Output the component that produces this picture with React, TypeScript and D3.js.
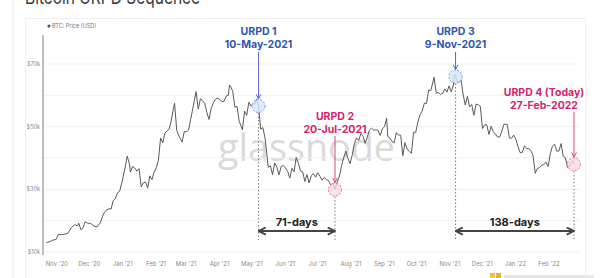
import React from "react";
import * as d3 from "d3";

const btcPrice: [string, number][] = [
  ["2020-10-25", 13.0], ["2020-10-28", 13.3], ["2020-10-31", 13.8], ["2020-11-03", 14.0],
  ["2020-11-05", 15.6], ["2020-11-08", 15.5], ["2020-11-11", 15.7], ["2020-11-14", 16.0],
  ["2020-11-17", 17.7], ["2020-11-20", 18.7], ["2020-11-23", 18.4], ["2020-11-24", 19.2],
  ["2020-11-26", 17.1], ["2020-11-28", 17.7], ["2020-11-30", 19.7], ["2020-12-02", 19.2],
  ["2020-12-05", 19.1], ["2020-12-08", 18.3], ["2020-12-11", 18.0], ["2020-12-14", 19.3],
  ["2020-12-16", 21.3], ["2020-12-18", 22.8], ["2020-12-20", 23.4], ["2020-12-22", 23.8],
  ["2020-12-24", 23.7], ["2020-12-26", 26.4], ["2020-12-28", 27.0], ["2020-12-30", 28.9],
  ["2021-01-01", 29.4], ["2021-01-03", 32.1], ["2021-01-06", 36.8], ["2021-01-08", 40.6],
  ["2021-01-10", 38.2], ["2021-01-11", 35.5], ["2021-01-13", 37.3], ["2021-01-15", 36.8],
  ["2021-01-17", 35.8], ["2021-01-19", 36.6], ["2021-01-21", 30.8], ["2021-01-23", 32.1],
  ["2021-01-25", 32.3], ["2021-01-27", 30.4], ["2021-01-29", 34.3], ["2021-01-31", 33.1],
  ["2021-02-02", 35.5], ["2021-02-04", 36.9], ["2021-02-06", 39.3], ["2021-02-08", 46.4],
  ["2021-02-10", 44.8], ["2021-02-12", 47.9], ["2021-02-14", 48.7], ["2021-02-16", 49.2],
  ["2021-02-18", 52.1], ["2021-02-20", 55.9], ["2021-02-21", 57.5], ["2021-02-23", 48.8],
  ["2021-02-25", 47.0], ["2021-02-28", 45.1], ["2021-03-02", 48.4], ["2021-03-04", 48.4],
  ["2021-03-06", 48.9], ["2021-03-08", 52.4], ["2021-03-10", 55.9], ["2021-03-13", 61.2],
  ["2021-03-15", 55.6], ["2021-03-17", 58.9], ["2021-03-19", 58.3], ["2021-03-21", 57.4],
  ["2021-03-23", 54.5], ["2021-03-25", 52.3], ["2021-03-27", 55.8], ["2021-03-29", 57.6],
  ["2021-03-31", 58.8], ["2021-04-02", 59.1], ["2021-04-04", 58.7], ["2021-04-06", 58.0],
  ["2021-04-08", 58.1], ["2021-04-10", 59.8], ["2021-04-12", 60.0], ["2021-04-13", 63.3],
  ["2021-04-14", 62.9], ["2021-04-16", 61.3], ["2021-04-18", 56.2], ["2021-04-20", 56.5],
  ["2021-04-22", 51.7], ["2021-04-24", 50.0], ["2021-04-25", 49.0], ["2021-04-27", 55.0],
  ["2021-04-29", 53.6], ["2021-05-01", 57.8], ["2021-05-03", 56.6], ["2021-05-05", 57.2],
  ["2021-05-07", 57.4], ["2021-05-08", 58.8], ["2021-05-10", 56.6], ["2021-05-12", 49.2],
  ["2021-05-14", 49.7], ["2021-05-16", 46.4], ["2021-05-17", 43.5], ["2021-05-19", 37.0],
  ["2021-05-21", 37.5], ["2021-05-23", 34.7], ["2021-05-25", 38.4], ["2021-05-27", 37.1],
  ["2021-05-29", 34.6], ["2021-05-31", 37.3], ["2021-06-02", 37.6], ["2021-06-04", 36.8],
  ["2021-06-06", 35.8], ["2021-06-08", 33.6], ["2021-06-10", 36.7], ["2021-06-12", 35.6],
  ["2021-06-14", 40.2], ["2021-06-16", 38.3], ["2021-06-18", 35.8], ["2021-06-20", 35.6],
  ["2021-06-22", 32.5], ["2021-06-24", 34.7], ["2021-06-26", 32.0], ["2021-06-28", 34.4],
  ["2021-06-30", 35.0], ["2021-07-02", 33.9], ["2021-07-04", 35.3], ["2021-07-06", 34.2],
  ["2021-07-08", 32.9], ["2021-07-10", 33.8], ["2021-07-12", 33.1], ["2021-07-14", 32.8],
  ["2021-07-16", 31.4], ["2021-07-18", 31.8], ["2021-07-20", 29.9], ["2021-07-22", 32.3],
  ["2021-07-24", 34.0], ["2021-07-26", 37.3], ["2021-07-28", 40.0], ["2021-07-30", 42.2],
  ["2021-08-01", 39.9], ["2021-08-03", 38.2], ["2021-08-05", 40.9], ["2021-08-07", 44.6],
  ["2021-08-09", 46.4], ["2021-08-11", 45.6], ["2021-08-13", 47.8], ["2021-08-15", 47.0],
  ["2021-08-17", 44.7], ["2021-08-19", 46.7], ["2021-08-21", 48.9], ["2021-08-23", 49.5],
  ["2021-08-25", 48.9], ["2021-08-27", 49.0], ["2021-08-29", 48.8], ["2021-08-31", 47.2],
  ["2021-09-02", 49.3], ["2021-09-04", 50.0], ["2021-09-06", 52.7], ["2021-09-07", 46.9],
  ["2021-09-09", 46.4], ["2021-09-11", 45.2], ["2021-09-13", 44.9], ["2021-09-15", 48.1],
  ["2021-09-17", 47.3], ["2021-09-19", 47.3], ["2021-09-21", 40.7], ["2021-09-23", 44.9],
  ["2021-09-25", 42.8], ["2021-09-27", 42.2], ["2021-09-29", 41.5], ["2021-10-01", 48.2],
  ["2021-10-03", 48.2], ["2021-10-05", 51.5], ["2021-10-07", 53.8], ["2021-10-09", 55.0],
  ["2021-10-11", 57.5], ["2021-10-13", 57.4], ["2021-10-15", 61.7], ["2021-10-17", 61.5],
  ["2021-10-19", 64.3], ["2021-10-20", 65.8], ["2021-10-22", 60.7], ["2021-10-24", 60.9],
  ["2021-10-26", 60.3], ["2021-10-28", 60.6], ["2021-10-30", 62.0], ["2021-11-01", 61.0],
  ["2021-11-03", 63.0], ["2021-11-05", 61.1], ["2021-11-07", 63.3], ["2021-11-08", 66.6],
  ["2021-11-09", 66.0], ["2021-11-10", 64.9], ["2021-11-12", 64.1], ["2021-11-14", 65.0],
  ["2021-11-16", 60.4], ["2021-11-18", 56.9], ["2021-11-20", 59.7], ["2021-11-22", 56.3],
  ["2021-11-24", 57.1], ["2021-11-26", 53.6], ["2021-11-28", 57.2], ["2021-11-30", 57.0],
  ["2021-12-02", 56.5], ["2021-12-04", 49.4], ["2021-12-06", 50.6], ["2021-12-08", 50.6],
  ["2021-12-10", 47.5], ["2021-12-12", 50.1], ["2021-12-14", 48.4], ["2021-12-16", 47.6],
  ["2021-12-18", 46.7], ["2021-12-20", 46.7], ["2021-12-22", 48.6], ["2021-12-24", 50.8],
  ["2021-12-27", 50.7], ["2021-12-29", 46.4], ["2021-12-31", 46.3], ["2022-01-02", 47.3],
  ["2022-01-04", 46.0], ["2022-01-06", 43.6], ["2022-01-08", 41.7], ["2022-01-10", 41.8],
  ["2022-01-12", 43.9], ["2022-01-14", 43.0], ["2022-01-16", 43.1], ["2022-01-18", 42.3],
  ["2022-01-20", 40.7], ["2022-01-22", 35.1], ["2022-01-24", 36.7], ["2022-01-26", 36.9],
  ["2022-01-28", 37.7], ["2022-01-30", 37.9], ["2022-02-01", 38.7], ["2022-02-03", 37.3],
  ["2022-02-05", 41.4], ["2022-02-07", 43.8], ["2022-02-09", 44.4], ["2022-02-11", 42.2],
  ["2022-02-13", 42.2], ["2022-02-15", 44.6], ["2022-02-17", 40.5], ["2022-02-19", 40.1],
  ["2022-02-21", 37.0], ["2022-02-23", 37.3], ["2022-02-24", 38.3], ["2022-02-26", 39.2],
  ["2022-02-27", 38.0],
];

const yTicks = [10, 30, 50, 70];
const yGrid = [10, 20, 30, 40, 50, 60, 70];
const monthTicks = [
  "2020-11-01", "2020-12-01", "2021-01-01", "2021-02-01", "2021-03-01", "2021-04-01",
  "2021-05-01", "2021-06-01", "2021-07-01", "2021-08-01", "2021-09-01", "2021-10-01",
  "2021-11-01", "2021-12-01", "2022-01-01", "2022-02-01",
];

const urpdTitles = ["URPD 1", "URPD 2", "URPD 3", "URPD 4 (Today)"];
const urpdDates = ["2021-05-10", "2021-07-20", "2021-11-09", "2022-02-27"];
const urpdDateLabels = ["10-May-2021", "20-Jul-2021", "9-Nov-2021", "27-Feb-2022"];
const urpdKinds = ["blue", "pink", "blue", "pink"];

const spans: { from: number; to: number; label: string }[] = [
  { from: 0, to: 1, label: "71-days" },
  { from: 2, to: 3, label: "138-days" },
];

const parse = d3.timeParse("%Y-%m-%d");
const fmtMonth = d3.timeFormat("%b '%y");

const PAL: Record<string, { text: string; arrow: string; ring: string; fill: string }> = {
  blue: { text: "#2f56b3", arrow: "#5b63c9", ring: "#6f9fe2", fill: "#d6e6fa" },
  pink: { text: "#d3236c", arrow: "#d9488a", ring: "#e0739f", fill: "#f9d9e6" },
};

export default function App() {
  const W = 600, H = 278;
  const x = d3.scaleTime()
    .domain([parse("2020-11-01")!, parse("2022-02-01")!])
    .range([54, 546]);
  const y = d3.scaleLinear().domain([10, 70]).range([252, 64]);

  const pts = btcPrice.map(([d, v]) => ({ d: parse(d)!, v }));
  const line = d3.line<{ d: Date; v: number }>().x((p) => x(p.d)).y((p) => y(p.v));
  const priceAt = (ds: string) => {
    const f = btcPrice.find((p) => p[0] === ds);
    return f ? f[1] : 40;
  };

  const textCx = [0, 0, 0, -30];
  const textTop = [31, 116, 31, 92];
  const arrowTop = [52, 136, 52, 112];

  const font = "Inter, Roboto, 'Noto Sans', sans-serif";
  const urpdX = urpdDates.map((d) => x(parse(d)!));
  const urpdY = urpdDates.map((d) => y(priceAt(d)));

  return (
    <svg width={W} height={H} style={{ position: "absolute", left: 0, top: 0, background: "#fff" }}
      fontFamily={font}>
      <defs>
        <marker id="ahB" viewBox="0 0 10 10" refX="9" refY="5" markerWidth="6" markerHeight="6" orient="auto">
          <path d="M1,1 L9,5 L1,9" fill="none" stroke={PAL.blue.arrow} strokeWidth="1.6" />
        </marker>
        <marker id="ahP" viewBox="0 0 10 10" refX="9" refY="5" markerWidth="6" markerHeight="6" orient="auto">
          <path d="M1,1 L9,5 L1,9" fill="none" stroke={PAL.pink.arrow} strokeWidth="1.6" />
        </marker>
        <marker id="ahK" viewBox="0 0 10 10" refX="8" refY="5" markerWidth="5" markerHeight="5" orient="auto-start-reverse">
          <path d="M1,1 L9,5 L1,9" fill="none" stroke="#444" strokeWidth="2" />
        </marker>
      </defs>

      {/* title (cut off at the top, as in the reference) */}
      <text x={25} y={4} fontSize={19} fill="#3a3a3a" textLength={175} lengthAdjust="spacingAndGlyphs">
        Bitcoin URPD Sequence
      </text>
      <line x1={13} y1={0} x2={13} y2={H} stroke="#ececec" />
      <rect x={25.5} y={18.5} width={560} height={262} fill="none" stroke="#efefef" />

      {/* watermark */}
      <text x={218} y={161} fontSize={38} fill="#dadada" textLength={177} lengthAdjust="spacingAndGlyphs"
        fontFamily="'Open Sans', 'Noto Sans', sans-serif">glassnode</text>

      {/* grid & axes */}
      {yGrid.map((v) => (
        <line key={v} x1={43} x2={580} y1={y(v)} y2={y(v)} stroke="#f1f1f1" strokeWidth={1} />
      ))}
      <line x1={43} x2={43} y1={35} y2={255} stroke="#9a9a9a" strokeWidth={1.3} />
      {yTicks.map((v) => (
        <text key={v} x={40} y={y(v) + 2} fontSize={5.5} fill="#8a8a8a" textAnchor="end">${v}k</text>
      ))}
      {monthTicks.map((m) => (
        <text key={m} x={x(parse(m)!) + 3} y={266} fontSize={6} fill="#8a8a8a" textAnchor="middle">
          {fmtMonth(parse(m)!)}
        </text>
      ))}

      {/* legend */}
      <circle cx={49} cy={26} r={1.6} fill="#555" />
      <text x={52} y={28} fontSize={5.5} fill="#777">BTC: Price (USD)</text>

      {/* price line */}
      <path d={line(pts) || ""} fill="none" stroke="#5a5a5a" strokeWidth={1} strokeLinejoin="round" />

      {/* dotted verticals */}
      {urpdX.map((ux, i) => (
        <line key={"v" + i} x1={ux} x2={ux} y1={urpdY[i] + 7} y2={240} stroke="#7a7a7a"
          strokeWidth={1} strokeDasharray="1.5,2" />
      ))}

      {/* spans */}
      {spans.map((s) => {
        const a = urpdX[s.from], b = urpdX[s.to];
        return (
          <g key={s.label}>
            <line x1={a + 1} x2={b - 1} y1={231} y2={231} stroke="#444" strokeWidth={1.8}
              markerStart="url(#ahK)" markerEnd="url(#ahK)" />
            <text x={(a + b) / 2} y={226} fontSize={11} fontWeight={700} fill="#222" textAnchor="middle">
              {s.label}
            </text>
          </g>
        );
      })}

      {/* URPD annotations */}
      {urpdTitles.map((t, i) => {
        const pal = PAL[urpdKinds[i]];
        const ux = urpdX[i], uy = urpdY[i];
        const tx = ux + textCx[i];
        return (
          <g key={t}>
            <text x={tx} y={textTop[i] + 4} fontSize={10.5} fontWeight={700} fill={pal.text} textAnchor="middle">{t}</text>
            <text x={tx} y={textTop[i] + 16.5} fontSize={10.5} fontWeight={700} fill={pal.text} textAnchor="middle">
              {urpdDateLabels[i]}
            </text>
            <line x1={ux} x2={ux} y1={arrowTop[i]} y2={uy - 7} stroke={pal.arrow} strokeWidth={1}
              markerEnd={urpdKinds[i] === "blue" ? "url(#ahB)" : "url(#ahP)"} />
            <circle cx={ux} cy={uy} r={6.5} fill={pal.fill} fillOpacity={0.8} stroke={pal.ring}
              strokeWidth={1} strokeDasharray="2,1.5" />
          </g>
        );
      })}

      {/* logo (cut off) */}
      <rect x={490} y={273} width={5} height={6} fill="#f2c230" />
      <rect x={496} y={273} width={5} height={6} fill="#e9b520" />
      <rect x={504} y={275} width={90} height={4} fill="#e8e8e8" />
    </svg>
  );
}
